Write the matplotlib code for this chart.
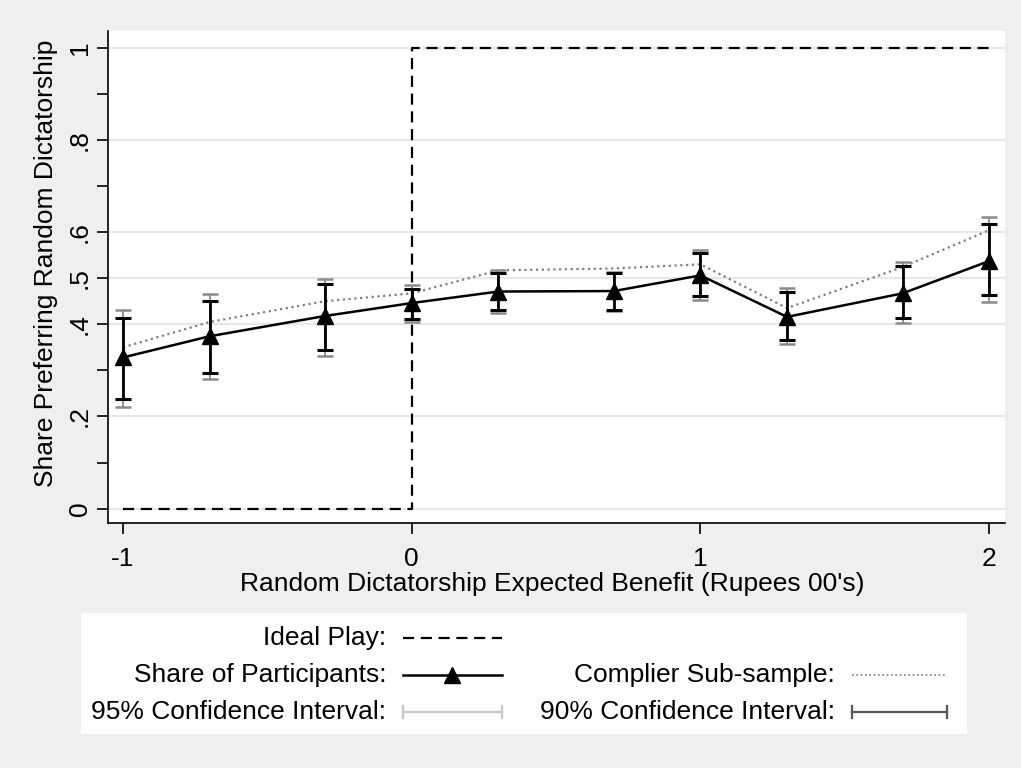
import matplotlib
matplotlib.use("Agg")
import matplotlib.pyplot as plt
import numpy as np

plt.rcParams['font.family'] = ['Liberation Sans', 'DejaVu Sans']

# expected benefit (Rupees 00's)
benefit = [-1, -0.7, -0.3, 0, 0.3, 0.7, 1, 1.3, 1.7, 2]
share = [0.328, 0.374, 0.418, 0.446, 0.471, 0.472, 0.506, 0.416, 0.467, 0.537]
complier = [0.350, 0.405, 0.450, 0.467, 0.517, 0.521, 0.530, 0.435, 0.524, 0.604]
ci95_lo = [0.220, 0.281, 0.331, 0.404, 0.425, 0.429, 0.452, 0.357, 0.402, 0.448]
ci95_hi = [0.430, 0.465, 0.499, 0.486, 0.517, 0.514, 0.561, 0.478, 0.535, 0.632]
ci90_lo = [0.238, 0.294, 0.344, 0.412, 0.431, 0.432, 0.461, 0.366, 0.413, 0.463]
ci90_hi = [0.413, 0.450, 0.487, 0.477, 0.512, 0.511, 0.555, 0.470, 0.526, 0.617]

ideal_x = [-1, 0, 0, 2]
ideal_y = [0, 0, 1, 1]

ytick_vals = [0, 0.2, 0.4, 0.5, 0.6, 0.8, 1]
ytick_labels = ['0', '.2', '.4', '.5', '.6', '.8', '1']
yminor = [0.1, 0.3, 0.7, 0.9]
xtick_vals = [-1, 0, 1, 2]

W, H = 1021, 768
fig = plt.figure(figsize=(W / 100, H / 100), dpi=100, facecolor='#efefef')

# plot region in pixels
L, R, T, B = 108, 1005, 31, 523
ax = fig.add_axes([L / W, 1 - B / H, (R - L) / W, (B - T) / H])
ax.set_facecolor('white')

for v in ytick_vals:
    ax.axhline(v, color='#e8e8e8', lw=1.6, zorder=0)

ax.plot(ideal_x, ideal_y, color='black', lw=1.6, linestyle=(0, (5, 3)), zorder=2)
ax.plot(benefit, complier, color='#808080', lw=1.6, linestyle=(0, (1, 1.6)), zorder=2)

s = np.array(share)
ax.errorbar(benefit, share, yerr=[s - np.array(ci95_lo), np.array(ci95_hi) - s],
            fmt='none', ecolor='#8a8a8a', elinewidth=1.3, capsize=6, capthick=1.8, zorder=3)
ax.errorbar(benefit, share, yerr=[s - np.array(ci90_lo), np.array(ci90_hi) - s],
            fmt='none', ecolor='black', elinewidth=2.0, capsize=6, capthick=2.2, zorder=4)
ax.plot(benefit, share, color='black', lw=1.8, marker='^', ms=12, zorder=5)

ax.set_xlim(-1.052, 2.055)
ax.set_ylim(-0.031, 1.036)

ax.set_yticks(ytick_vals)
ax.set_yticklabels(ytick_labels)
ax.set_yticks(yminor, minor=True)
ax.set_xticks(xtick_vals)
ax.set_xticklabels([str(v) for v in xtick_vals])
ax.tick_params(axis='y', which='both', length=8, width=1.2, labelsize=19,
               labelrotation=90, pad=3.5)
ax.tick_params(axis='x', length=8, width=1.2, labelsize=19, pad=9)
for lab in ax.get_yticklabels():
    lab.set_va('center')

ax.spines['top'].set_visible(False)
ax.spines['right'].set_visible(False)
ax.spines['left'].set_linewidth(1.2)
ax.spines['bottom'].set_linewidth(1.2)

ax.set_xlabel("Random Dictatorship Expected Benefit (Rupees 00's)", fontsize=19, va='top')
ax.xaxis.set_label_coords(0.495, -0.099)
ax.set_ylabel("Share Preferring Random Dictatorship", fontsize=19)
ax.yaxis.set_label_coords(-0.0555, 0.528)

# legend box
lx0, lx1, ly0, ly1 = 81, 967, 613, 734
lax = fig.add_axes([lx0 / W, 1 - ly1 / H, (lx1 - lx0) / W, (ly1 - ly0) / H])
lax.set_facecolor('white')
lax.set_xlim(lx0, lx1)
lax.set_ylim(ly1, ly0)
lax.set_xticks([])
lax.set_yticks([])
for sp in lax.spines.values():
    sp.set_visible(False)

fs = 19
rows = [638, 675, 712]
lax.text(386, rows[0], "Ideal Play:", ha='right', va='center', fontsize=fs)
lax.plot([403, 502], [rows[0]] * 2, color='black', lw=1.6, linestyle=(0, (5, 3)))

lax.text(386, rows[1], "Share of Participants:", ha='right', va='center', fontsize=fs)
lax.plot([403, 502], [rows[1]] * 2, color='black', lw=1.8)
lax.plot([452], [rows[1]], marker='^', ms=12, color='black')

lax.text(835, rows[1], "Complier Sub-sample:", ha='right', va='center', fontsize=fs)
lax.plot([852, 947], [rows[1]] * 2, color='#808080', lw=1.2, linestyle=(0, (1, 1.6)))

lax.text(386, rows[2], "95% Confidence Interval:", ha='right', va='center', fontsize=fs)
lax.plot([403, 502], [rows[2]] * 2, color='#c8c8c8', lw=1.6)
lax.plot([403, 403], [rows[2] - 6, rows[2] + 6], color='#c8c8c8', lw=1.6)
lax.plot([502, 502], [rows[2] - 6, rows[2] + 6], color='#c8c8c8', lw=1.6)

lax.text(835, rows[2], "90% Confidence Interval:", ha='right', va='center', fontsize=fs)
lax.plot([852, 947], [rows[2]] * 2, color='#555555', lw=1.6)
lax.plot([852, 852], [rows[2] - 6, rows[2] + 6], color='#555555', lw=1.6)
lax.plot([947, 947], [rows[2] - 6, rows[2] + 6], color='#555555', lw=1.6)

fig.savefig('out.png', dpi=100, facecolor=fig.get_facecolor())
